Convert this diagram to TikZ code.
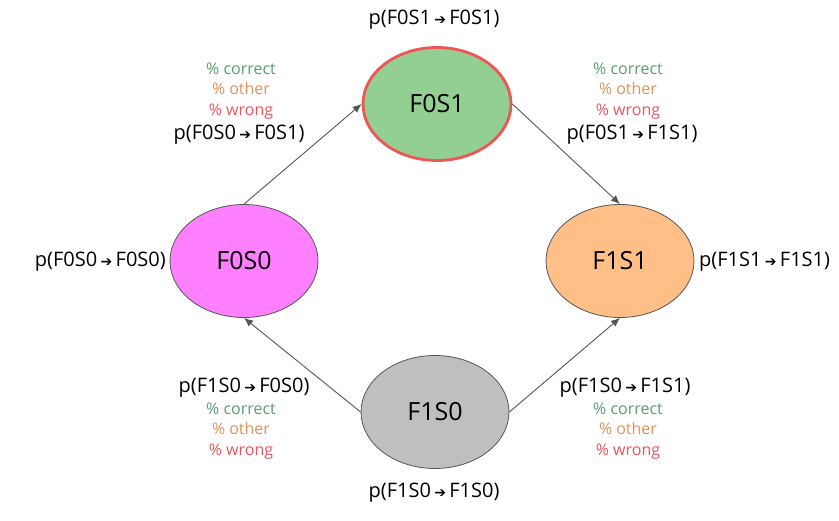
\documentclass[tikz,border=0pt]{standalone}
\usepackage{fontspec}
\setmainfont{Open Sans}
\newfontfamily\arrowfont{DejaVu Sans}
\usetikzlibrary{shapes.geometric, arrows.meta}
\definecolor{stategreen}{RGB}{147,206,147}
\definecolor{statered}{RGB}{240,85,85}
\definecolor{statepink}{RGB}{255,128,255}
\definecolor{stateorange}{RGB}{255,191,135}
\definecolor{stategray}{RGB}{191,191,191}
\definecolor{edgegray}{RGB}{85,85,85}
\definecolor{txtgreen}{RGB}{90,158,111}
\definecolor{txtorange}{RGB}{224,146,90}
\definecolor{txtred}{RGB}{232,85,95}
\newcommand{\trans}[2]{p(#1\,{\arrowfont\fontsize{14}{14}\selectfont ➔}\,#2)}
\newcommand{\scores}{{\color{txtgreen}\% correct}\\{\color{txtorange}\% other}\\{\color{txtred}\% wrong}}
\begin{document}
\begin{tikzpicture}[x=1pt, y=-1pt,
        state/.style={ellipse, draw=edgegray, line width=0.8pt, minimum width=148pt, minimum height=113pt, font=\fontsize{25}{28}\selectfont},
        arrow/.style={draw, edgegray, line width=0.9pt, -{Latex[length=9pt, width=7.5pt]}},
        prob/.style={font=\fontsize{20}{24}\selectfont, inner sep=0pt},
        pct/.style={font=\fontsize{16}{20.5}\selectfont, align=center, inner sep=0pt}
    ]
    \useasboundingbox (0,0) rectangle (839,521);
    % States
    \node[state, fill=stategreen, draw=statered, line width=2.8pt] (f0s1) at (437,104) {F0S1};
    \node[state, fill=statepink] (f0s0) at (244,261) {F0S0};
    \node[state, fill=stateorange] (f1s1) at (620,261) {F1S1};
    \node[state, fill=stategray] (f1s0) at (435,412) {F1S0};

    % Transitions
    \draw[arrow] (f0s0.north) -- (f0s1.west);
    \draw[arrow] (f0s1.east) -- (f1s1.north);
    \draw[arrow] (f1s0.west) -- (f0s0.south);
    \draw[arrow] (f1s0.east) -- (f1s1.south);

    % Self transitions
    \node[prob] (p11) at (434,20) {\trans{F0S1}{F0S1}};
    \node[prob, anchor=east] (p00) at (166,262) {\trans{F0S0}{F0S0}};
    \node[prob, anchor=west] (p33) at (699,262) {\trans{F1S1}{F1S1}};
    \node[prob] (p22) at (434,493) {\trans{F1S0}{F1S0}};

    % Transition labels
    \node[prob] (p01) at (239,135) {\trans{F0S0}{F0S1}};
    \node[pct] (s01) at (241,91) {\scores};
    \node[prob] (p13) at (632,135) {\trans{F0S1}{F1S1}};
    \node[pct] (s13) at (628,91) {\scores};
    \node[prob] (p20) at (244,388) {\trans{F1S0}{F0S0}};
    \node[pct] (s20) at (241,431) {\scores};
    \node[prob] (p23) at (625,388) {\trans{F1S0}{F1S1}};
    \node[pct] (s23) at (628,431) {\scores};

\end{tikzpicture}
\end{document}
